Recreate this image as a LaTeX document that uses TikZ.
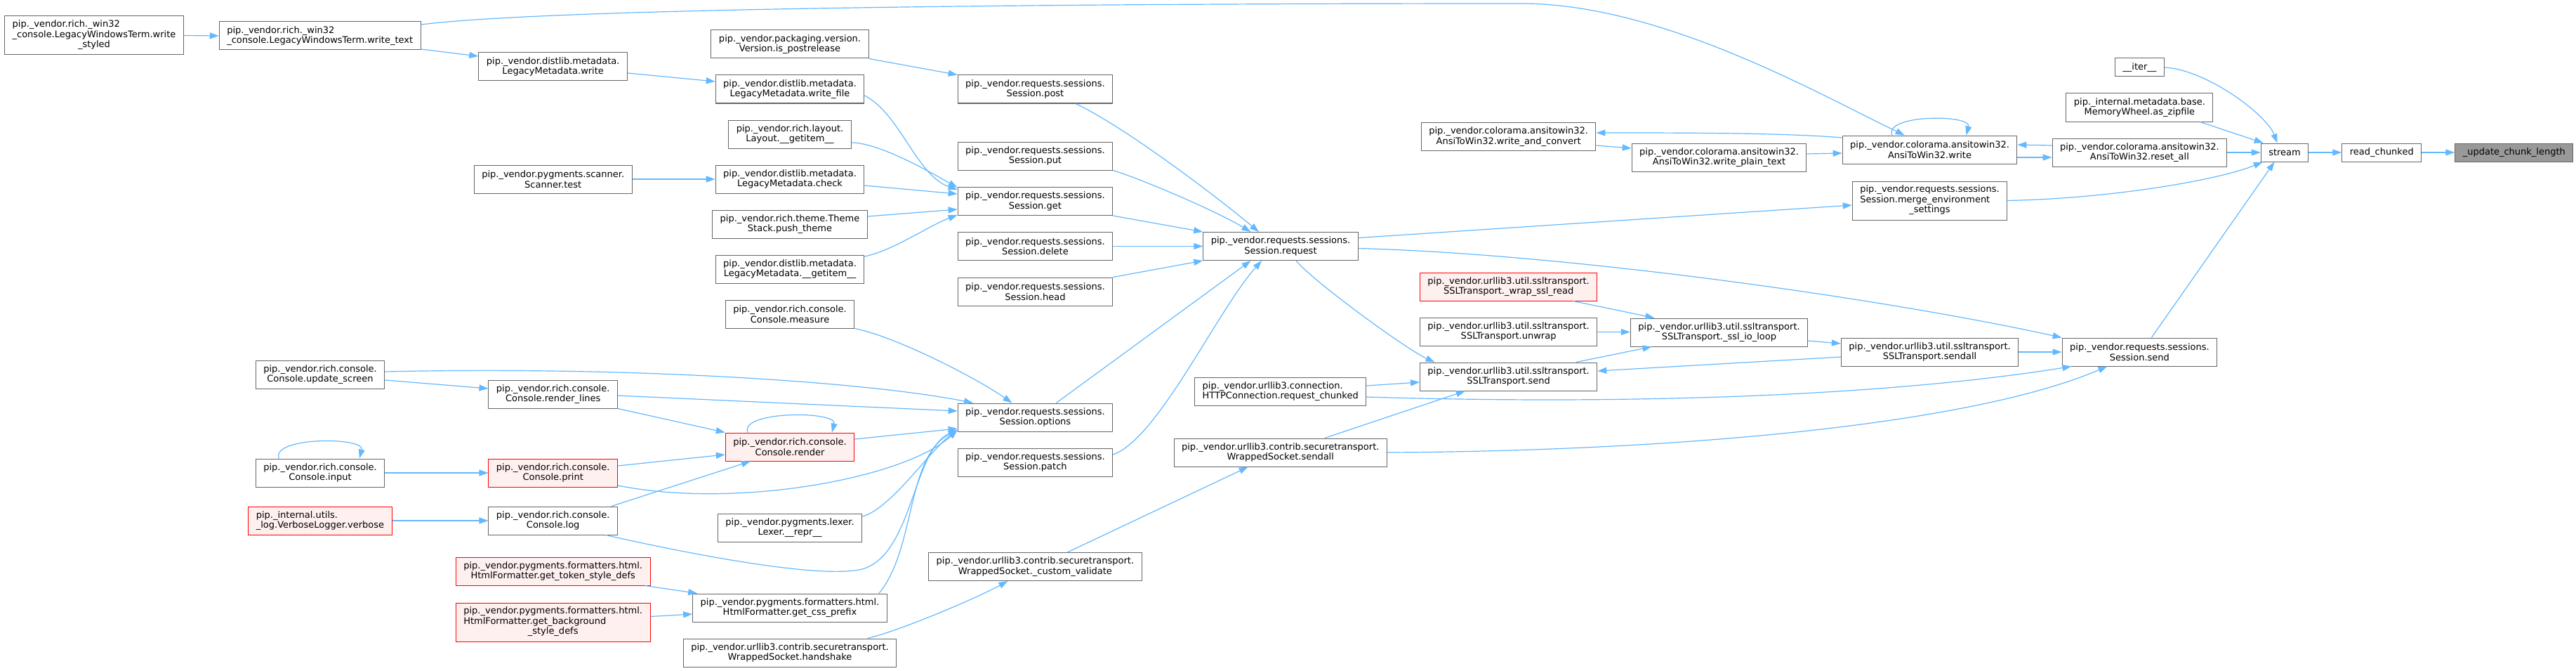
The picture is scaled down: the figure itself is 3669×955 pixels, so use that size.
\documentclass[tikz,border=0pt]{standalone}
\usepackage{fontspec}
\setmainfont{DejaVu Sans}
\usepackage{xcolor}
\definecolor{cEdge}{HTML}{63B8FF}
\definecolor{cLine}{HTML}{666666}
\definecolor{cRed}{HTML}{FF0000}
\definecolor{cRedFill}{HTML}{FFF0F0}
\definecolor{cRoot}{HTML}{999999}
\usepackage{tikz}
\usetikzlibrary{positioning,arrows.meta}
\newcommand{\fnfont}{\fontsize{13}{14.5}\selectfont}
\newcommand{\llc}[3]{\begin{tabular}{@{}l@{}}#1\\#2\\\multicolumn{1}{@{}c@{}}{#3}\end{tabular}}
\tikzset{
  node-fn/.style={draw=cLine,line width=1pt,fill=white,inner xsep=11pt,inner ysep=2pt,
    minimum height=40pt,align=center,font=\fnfont},
  node-one/.style={minimum height=26pt},
  node-three/.style={minimum height=55pt},
  node-left/.style={align=left},
  % rood = functie zonder documentatie, grijs = de functie zelf
  node-red/.style={draw=cRed,fill=cRedFill},
  node-root/.style={fill=cRoot},
  arrow/.style={-{Triangle[length=13pt,width=9pt]},line width=1.2pt,draw=cEdge},
}

\begin{document}
\begin{tikzpicture}[x=1pt,y=-1pt,node distance=47pt]
  \useasboundingbox (0,0) rectangle (3669,955);
  % kolom 1 en 2
  \node[node-fn,node-three] (wstyled) at (134,50.5) {\llc{pip.\_vendor.rich.\_win32}{\_console.LegacyWindowsTerm.write}{\_styled}};
  \node[node-fn,node-left] (wtext) at (455.7,51) {pip.\_vendor.rich.\_win32\\\_console.LegacyWindowsTerm.write\_text};
  \node[node-fn] (updscreen) at (456,533) {pip.\_vendor.rich.console.\\Console.update\_screen};
  \node[node-fn] (cinput) at (456,673) {pip.\_vendor.rich.console.\\Console.input};
  \node[node-fn,node-red,node-left] (verbose) at (456,741) {pip.\_internal.utils.\\\_log.VerboseLogger.verbose};
  % kolom 3
  \node[node-fn] (lmwrite) at (787.7,95) {pip.\_vendor.distlib.metadata.\\LegacyMetadata.write};
  \node[node-fn] (sctest) at (787.7,255) {pip.\_vendor.pygments.scanner.\\Scanner.test};
  \node[node-fn] (renderlines) at (787.7,561) {pip.\_vendor.rich.console.\\Console.render\_lines};
  \node[node-fn,node-red] (cprint) at (787.7,673) {pip.\_vendor.rich.console.\\Console.print};
  \node[node-fn] (clog) at (787.7,741) {pip.\_vendor.rich.console.\\Console.log};
  \node[node-fn,node-red] (tokdefs) at (787.7,813) {pip.\_vendor.pygments.formatters.html.\\HtmlFormatter.get\_token\_style\_defs};
  \node[node-fn,node-red,node-three] (bgdefs) at (787.7,885.5) {\llc{pip.\_vendor.pygments.formatters.html.}{HtmlFormatter.get\_background}{\_style\_defs}};
  % kolom 4
  \node[node-fn] (postrel) at (1125,63) {pip.\_vendor.packaging.version.\\Version.is\_postrelease};
  \node[node-fn] (wfile) at (1125,127) {pip.\_vendor.distlib.metadata.\\LegacyMetadata.write\_file};
  \node[node-fn] (laygetitem) at (1125,191) {pip.\_vendor.rich.layout.\\Layout.\_\_getitem\_\_};
  \node[node-fn] (lmcheck) at (1125,255) {pip.\_vendor.distlib.metadata.\\LegacyMetadata.check};
  \node[node-fn] (pushtheme) at (1125,319) {pip.\_vendor.rich.theme.Theme\\Stack.push\_theme};
  \node[node-fn] (lmgetitem) at (1125,383) {pip.\_vendor.distlib.metadata.\\LegacyMetadata.\_\_getitem\_\_};
  \node[node-fn] (measure) at (1125,447) {pip.\_vendor.rich.console.\\Console.measure};
  \node[node-fn,node-red] (render) at (1125,636) {pip.\_vendor.rich.console.\\Console.render};
  \node[node-fn] (lexrepr) at (1125,751) {pip.\_vendor.pygments.lexer.\\Lexer.\_\_repr\_\_};
  \node[node-fn] (cssprefix) at (1125,865) {pip.\_vendor.pygments.formatters.html.\\HtmlFormatter.get\_css\_prefix};
  \node[node-fn] (handshake) at (1125,929) {pip.\_vendor.urllib3.contrib.securetransport.\\WrappedSocket.handshake};
  % kolom 5
  \node[node-fn] (spost) at (1474.4,127) {pip.\_vendor.requests.sessions.\\Session.post};
  \node[node-fn] (sput) at (1474.4,222) {pip.\_vendor.requests.sessions.\\Session.put};
  \node[node-fn] (sget) at (1474.4,286.5) {pip.\_vendor.requests.sessions.\\Session.get};
  \node[node-fn] (sdelete) at (1474.4,350.5) {pip.\_vendor.requests.sessions.\\Session.delete};
  \node[node-fn] (shead) at (1474.4,415) {pip.\_vendor.requests.sessions.\\Session.head};
  \node[node-fn] (soptions) at (1474.4,594) {pip.\_vendor.requests.sessions.\\Session.options};
  \node[node-fn] (spatch) at (1474.4,658) {pip.\_vendor.requests.sessions.\\Session.patch};
  \node[node-fn] (cvalidate) at (1474.4,806.5) {pip.\_vendor.urllib3.contrib.securetransport.\\WrappedSocket.\_custom\_validate};
  % kolom 6
  \node[node-fn] (srequest) at (1824,350.5) {pip.\_vendor.requests.sessions.\\Session.request};
  \node[node-fn,node-left] (reqchunked) at (1823.7,557) {pip.\_vendor.urllib3.connection.\\HTTPConnection.request\_chunked};
  \node[node-fn] (wssendall) at (1823.7,644) {pip.\_vendor.urllib3.contrib.securetransport.\\WrappedSocket.sendall};
  % kolom 7 en 8
  \node[node-fn] (wconvert) at (2148.6,194.5) {pip.\_vendor.colorama.ansitowin32.\\AnsiToWin32.write\_and\_convert};
  \node[node-fn,node-red] (wraprd) at (2148.6,408) {pip.\_vendor.urllib3.util.ssltransport.\\SSLTransport.\_wrap\_ssl\_read};
  \node[node-fn] (unwrap) at (2148.6,472) {pip.\_vendor.urllib3.util.ssltransport.\\SSLTransport.unwrap};
  \node[node-fn] (sslsend) at (2148.6,536) {pip.\_vendor.urllib3.util.ssltransport.\\SSLTransport.send};
  \node[node-fn] (wplain) at (2448.5,224) {pip.\_vendor.colorama.ansitowin32.\\AnsiToWin32.write\_plain\_text};
  \node[node-fn] (ioloop) at (2448.5,473) {pip.\_vendor.urllib3.util.ssltransport.\\SSLTransport.\_ssl\_io\_loop};
  % kolom 9 en 10
  \node[node-fn] (awrite) at (2748.5,213) {pip.\_vendor.colorama.ansitowin32.\\AnsiToWin32.write};
  \node[node-fn,node-three] (mergeenv) at (2748.5,285.5) {\llc{pip.\_vendor.requests.sessions.}{Session.merge\_environment}{\_settings}};
  \node[node-fn] (sslsendall) at (2748.5,501) {pip.\_vendor.urllib3.util.ssltransport.\\SSLTransport.sendall};
  \node[node-fn,node-one] (iter) at (3047.4,96) {\_\_iter\_\_};
  \node[node-fn] (zipfile) at (3047.4,153) {pip.\_internal.metadata.base.\\MemoryWheel.as\_zipfile};
  \node[node-fn] (resetall) at (3047.4,217) {pip.\_vendor.colorama.ansitowin32.\\AnsiToWin32.reset\_all};
  \node[node-fn] (ssend) at (3047.4,501) {pip.\_vendor.requests.sessions.\\Session.send};
  % stream -> read_chunked -> _update_chunk_length
  \node[node-fn,node-one] (stream) at (3254,217) {stream};
  \node[node-fn,node-one,right=of stream] (rchunked) {read\_chunked};
  \node[node-fn,node-one,node-root,right=of rchunked] (updlen) {\_update\_chunk\_length};
  \coordinate (bendtop) at (2166,5);
  \coordinate (logdip) at (1228,810);

  \draw[arrow] (rchunked) -- (updlen);
  \draw[arrow] (stream) -- (rchunked);
  \draw[arrow] (iter.east) .. controls +(60,3) and +(-15,-40) .. ([xshift=-10.5pt]stream.north);
  \draw[arrow] ([xshift=-19pt]zipfile.south east) -- ([xshift=4pt]stream.north west);
  \draw[arrow] (resetall) -- (stream);
  \draw[arrow] (mergeenv.east) .. controls +(150,-3) and +(-60,25) .. ([xshift=3pt]stream.south west);
  \draw[arrow] ([xshift=17pt]ssend.north) -- ([xshift=-14.5pt]stream.south);
  \draw[arrow] ([yshift=10pt]resetall.west) -- ([yshift=7pt]awrite.east);
  \draw[arrow] ([yshift=-11pt]awrite.east) -- ([yshift=-7pt]resetall.west);
  \draw[arrow] ([xshift=-53.6pt]awrite.north) .. controls +(-12,-30) and +(8,-30) .. ([xshift=52pt]awrite.north);
  \draw[arrow] ([yshift=16pt]wtext.east) .. controls +(199,-25) and +(-566,0) .. (bendtop)
    .. controls +(200,0) and +(-123,-59) .. ([xshift=-35.8pt]awrite.north);
  \draw[arrow] ([yshift=17pt]awrite.west) .. controls +(-80,-7) and +(120,0) .. ([yshift=5.5pt]wconvert.east);
  \draw[arrow] ([yshift=-12.5pt]wconvert.east) -- ([yshift=13pt]wplain.west);
  \draw[arrow] ([yshift=5pt]wplain.east) -- ([yshift=-5pt]awrite.west);
  \draw[arrow] ([yshift=-19pt]wtext.east) -- ([yshift=15pt]lmwrite.west);
  \draw[arrow] ([yshift=-9pt]lmwrite.east) -- ([yshift=11pt]wfile.west);
  \draw[arrow] (sctest) -- (lmcheck);
  \draw[arrow] (postrel.south east) -- (spost.north west);
  \draw[arrow] ([yshift=-9pt]wfile.east) .. controls +(50,25) and +(-58,-20) .. ([yshift=16.5pt]sget.west);
  \draw[arrow] ([yshift=-12pt]laygetitem.east) .. controls +(40,0) and +(-35,-20) .. ([yshift=19.5pt]sget.west);
  \draw[arrow] ([yshift=-9pt]lmcheck.east) -- ([yshift=10.5pt]sget.west);
  \draw[arrow] ([yshift=11pt]pushtheme.east) -- ([yshift=-11.5pt]sget.west);
  \draw[arrow] ([yshift=18pt]lmgetitem.east) .. controls +(40,-8) and +(-40,15) .. ([yshift=-19.5pt]sget.west);
  \draw[arrow] ([xshift=57.6pt]spost.south) .. controls +(70,33) and +(-60,-50) .. ([xshift=-31pt]srequest.north);
  \draw[arrow] (sput.south east) .. controls +(40,12) and +(-50,-30) .. ([xshift=-42.5pt]srequest.north);
  \draw[arrow] (sget.south east) -- (srequest.north west);
  \draw[arrow] (sdelete) -- (srequest);
  \draw[arrow] (shead.north east) -- (srequest.south west);
  \draw[arrow] ([xshift=30pt]soptions.north) -- ([xshift=-42.5pt]srequest.south);
  \draw[arrow] ([yshift=11pt]spatch.east) .. controls +(64,-22) and +(-64,72) .. ([xshift=-27pt]srequest.south);
  \draw[arrow] ([yshift=12pt]srequest.east) -- ([yshift=-6.5pt]mergeenv.west);
  \draw[arrow] ([yshift=-3pt]srequest.east) .. controls +(300,8) and +(-250,-55) .. (ssend.north west);
  \draw[arrow] ([xshift=22pt]srequest.south) .. controls +(25,30) and +(-40,-18) .. ([xshift=-105pt]sslsend.north);
  \draw[arrow] ([xshift=92pt]wraprd.south) -- ([xshift=-92pt]ioloop.north);
  \draw[arrow] (unwrap) -- (ioloop);
  \draw[arrow] ([xshift=96pt]sslsend.north) -- ([xshift=-96pt]ioloop.south);
  \draw[arrow] ([yshift=-12pt]ioloop.east) -- ([yshift=12pt]sslsendall.west);
  \draw[arrow] ([yshift=-7pt]sslsendall.west) -- ([yshift=8pt]sslsend.east);
  \draw[arrow] (sslsendall) -- (ssend);
  \draw[arrow] ([yshift=8pt]reqchunked.east) -- ([yshift=-8pt]sslsend.west);
  \draw[arrow] ([yshift=-8pt]reqchunked.east) .. controls +(400,12) and +(-250,40) .. ([xshift=-97pt]ssend.south);
  \draw[arrow] ([xshift=63pt]wssendall.north) -- ([xshift=-61.7pt]sslsend.south);
  \draw[arrow] (wssendall.east) .. controls +(400,-2) and +(-200,85) .. ([xshift=-46pt]ssend.south);
  \draw[arrow] ([xshift=46pt]cvalidate.north) -- ([xshift=-46pt]wssendall.south);
  \draw[arrow] ([xshift=110.7pt]handshake.north) .. controls +(50,-12) and +(-40,22) .. ([xshift=-39pt]cvalidate.south);
  \draw[arrow] (wstyled.east) -- (wtext.west);
  \draw[arrow] ([yshift=4pt]updscreen.east) .. controls +(350,-8) and +(-150,-30) .. ([xshift=-88.4pt]soptions.north);
  \draw[arrow] ([yshift=-8pt]updscreen.east) -- ([yshift=8pt]renderlines.west);
  \draw[arrow] ([yshift=-2pt]renderlines.east) -- ([yshift=9pt]soptions.west);
  \draw[arrow] (renderlines.south east) -- (render.north west);
  \draw[arrow] ([yshift=11pt]render.east) -- ([yshift=-16pt]soptions.west);
  \draw[arrow] ([xshift=-60pt]render.north) .. controls +(-12,-31) and +(8,-31) .. ([xshift=60pt]render.north);
  \draw[arrow] ([yshift=10pt]cprint.east) -- ([yshift=-11pt]render.west);
  \draw[arrow] (cinput) -- (cprint);
  \draw[arrow] ([xshift=-58.6pt]cinput.north) .. controls +(-12,-31) and +(8,-31) .. ([xshift=56pt]cinput.north);
  \draw[arrow] (verbose) -- (clog);
  \draw[arrow] ([yshift=-18pt]cprint.east) .. controls +(171,34) and +(-73.5,68) .. ([yshift=-18pt]soptions.west);
  \draw[arrow] ([xshift=83pt]clog.north) -- ([xshift=-56pt]render.south);
  \draw[arrow] ([xshift=75pt]clog.south) .. controls +(110,25) and +(-60,15) .. (logdip)
    .. controls +(72,-20) and +(-63.5,28) .. ([yshift=-18pt]soptions.west);
  \draw[arrow] ([yshift=16pt]lexrepr.east) .. controls +(40,-10) and +(-40,30) .. ([yshift=-18pt]soptions.west);
  \draw[arrow] ([xshift=-12pt]cssprefix.north east) .. controls +(53,-64) and +(-73.5,38) .. ([yshift=-18pt]soptions.west);
  \draw[arrow] ([xshift=-8pt]tokdefs.south east) -- ([xshift=7pt]cssprefix.north west);
  \draw[arrow] ([yshift=8pt]bgdefs.east) -- ([yshift=-9pt]cssprefix.west);
  \draw[arrow] (measure.south east) .. controls +(60,12) and +(-50,-35) .. ([xshift=-33pt]soptions.north);
\end{tikzpicture}
\end{document}
